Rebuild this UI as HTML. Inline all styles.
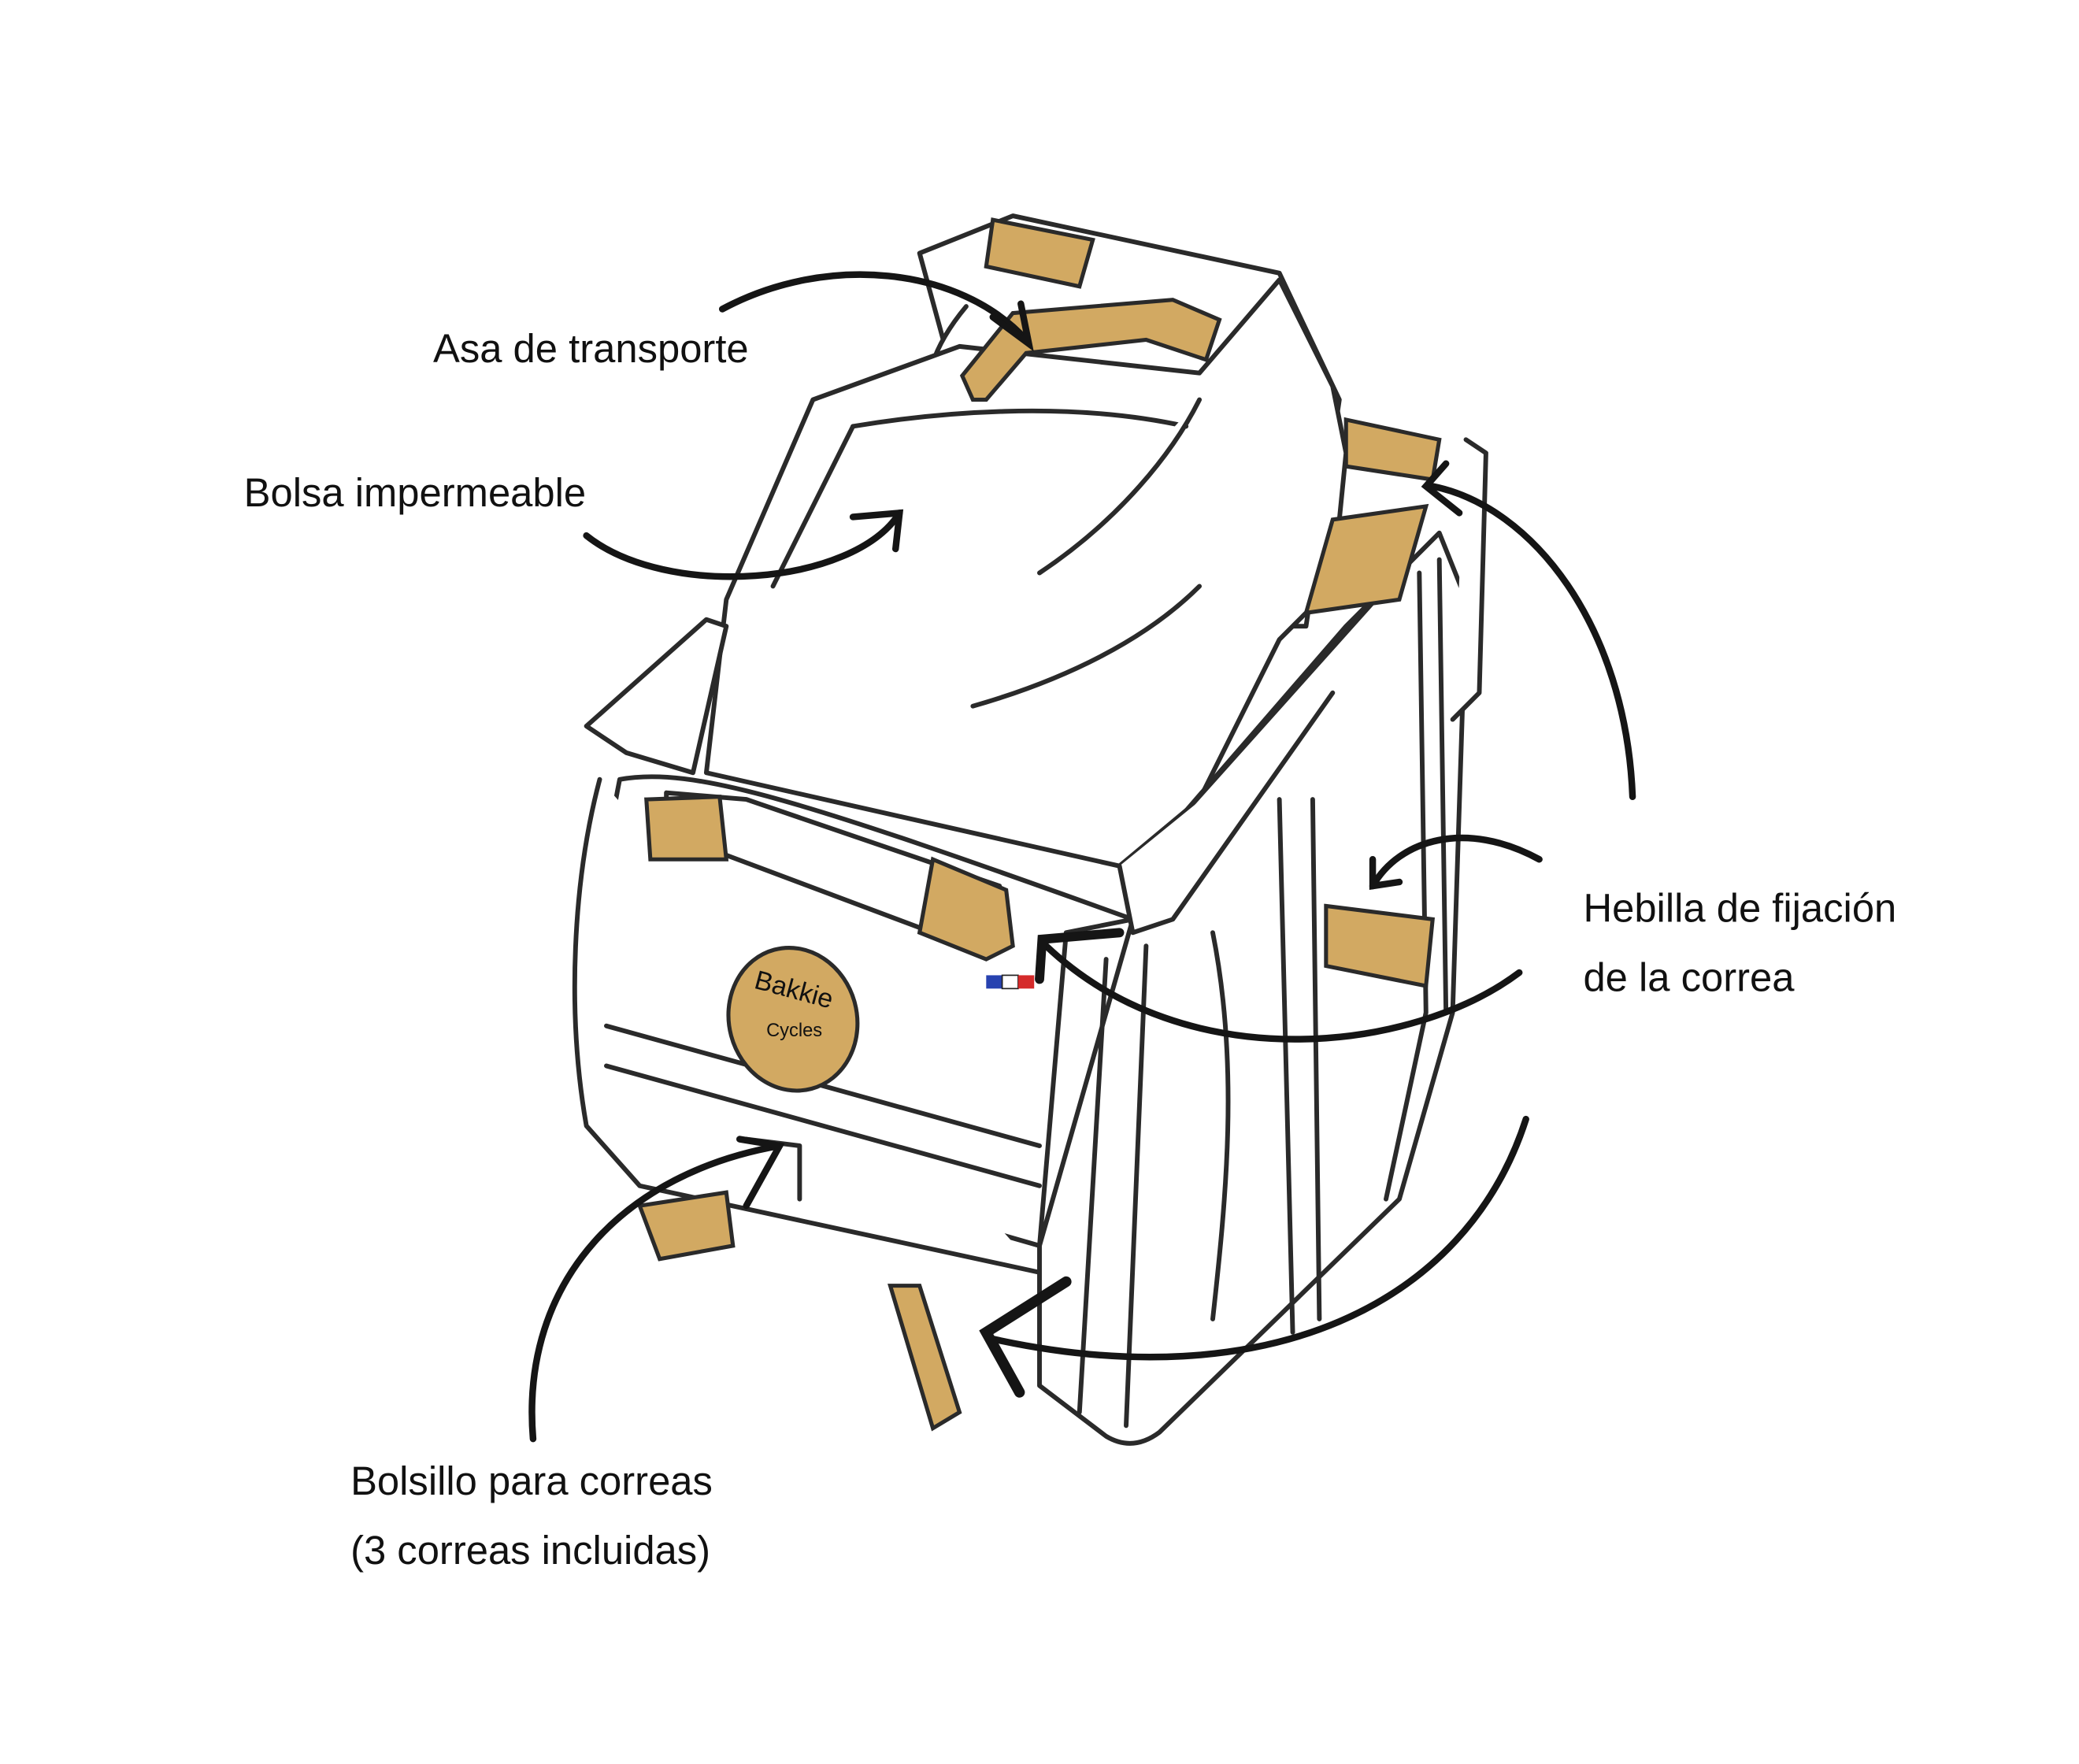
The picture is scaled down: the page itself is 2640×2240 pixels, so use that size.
<!DOCTYPE html>
<html><head><meta charset="utf-8"><style>
html,body{margin:0;padding:0;background:#fff;}
svg{display:block;}
text{font-family:"Liberation Sans",sans-serif;fill:#111;}
</style></head><body>
<svg width="2640" height="2240" viewBox="0 0 1560 1324" preserveAspectRatio="none" xmlns="http://www.w3.org/2000/svg">
<rect width="1560" height="1324" fill="#fff"/>
<g fill="#fff" stroke="#2a2a2a" stroke-width="3.5" stroke-linejoin="round" stroke-linecap="round">
<path d="M690 190 L760 162 L960 205 L1005 300 L980 470 L880 470 L720 300 Z"/>
<path d="M725 230 C700 260 690 290 700 310"/>
<path d="M610 300 L720 260 L900 280 L960 210 L1000 290 L1010 340 L1000 440 L960 480 L900 600 L840 650 L530 580 L545 450 Z"/>
<path d="M640 320 C700 310 800 300 890 320"/>
<path d="M780 430 C840 390 880 340 900 300"/>
<path d="M730 530 C800 510 860 480 900 440"/>
<path d="M640 320 C620 360 600 400 580 440"/>
<path d="M440 545 L530 465 L545 470 L520 580 L470 565 Z"/>
<path d="M465 585 C520 575 600 600 850 690 L800 700 L780 935 L450 840 C440 760 450 660 465 585 Z"/>
<path d="M450 585 C430 660 425 760 440 845 L480 890 L780 955"/>
<path d="M455 770 L780 860"/>
<path d="M455 800 L780 890"/>
<path d="M560 855 L600 860 L600 900"/>
<path d="M850 690 L880 620 L1010 470 L1080 400 L1100 450 L1090 760 L1050 900 L870 1075 Q850 1090 830 1078 L780 1040 L780 935 Z"/>
<path d="M880 620 L1050 430"/>
<path d="M840 650 L850 700 L880 690 L1000 520"/>
<path d="M960 600 L970 1000"/>
<path d="M985 600 L990 990"/>
<path d="M1065 430 L1070 760 L1040 900"/>
<path d="M1080 420 L1085 760"/>
<path d="M830 720 L810 1060"/>
<path d="M860 710 L845 1070"/>
<path d="M910 700 C930 800 920 900 910 990"/>
<path d="M1100 330 L1115 340 L1110 520 L1090 540"/>
<path d="M500 595 L560 600 L750 665 L740 710 L700 700 L540 640 L500 630 Z"/>
</g>
<g fill="#d2a962" stroke="#2a2a2a" stroke-width="3">
<path d="M745 165 L820 180 L810 215 L740 200 Z"/>
<path d="M722 282 L760 235 L880 225 L915 240 L905 270 L860 255 L770 265 L740 300 L730 300 Z"/>
<path d="M485 600 L540 598 L545 645 L488 645 Z"/>
<path d="M700 645 L755 668 L760 710 L740 720 L690 700 Z"/>
<path d="M1010 315 L1080 330 L1075 360 L1010 350 Z"/>
<path d="M1000 390 L1070 380 L1050 450 L980 460 Z"/>
<path d="M995 680 L1075 690 L1070 740 L995 725 Z"/>
<path d="M480 905 L545 895 L550 935 L495 945 Z"/>
<path d="M668 965 L690 965 L720 1060 L700 1072 Z"/>
<ellipse cx="595" cy="765" rx="48" ry="54" transform="rotate(-15 595 765)"/>
</g>
<text x="560" y="750" font-size="20" fill="#222" transform="rotate(15 595 765)">Bakkie</text>
<text x="575" y="778" font-size="14" fill="#222">Cycles</text>
<rect x="740" y="732" width="12" height="10" fill="#2742b0"/>
<rect x="752" y="732" width="12" height="10" fill="#fff" stroke="#222"/>
<rect x="764" y="732" width="12" height="10" fill="#d52a2a"/>
<g fill="none" stroke="#151515" stroke-width="5" stroke-linecap="round">
<path d="M542 232 C620 190 720 200 770 255"/>
<path d="M745 238 L772 258 L766 228"/>
<path d="M440 402 C500 450 640 440 675 385"/>
<path d="M640 388 L675 385 L672 412"/>
<path d="M1225 598 C1220 470 1150 380 1075 365"/>
<path d="M1085 348 L1070 365 L1095 385"/>
<path d="M1155 645 C1100 615 1050 630 1030 665"/>
<path d="M1030 645 L1030 665 L1050 662"/>
<path d="M1140 730 C1060 790 890 810 785 710"/>
<path d="M780 735 L782 705 L840 700" stroke-width="7"/>
<path d="M1145 840 C1100 980 950 1050 745 1005"/>
<path d="M800 962 L740 1000 L765 1045" stroke-width="8"/>
<path d="M400 1080 C390 960 470 880 585 860"/>
<path d="M555 855 L585 860 L560 905"/>
</g>
<g font-size="30">
<text x="325" y="272">Asa de transporte</text>
<text x="183" y="380">Bolsa impermeable</text>
<text x="1188" y="692">Hebilla de fijación</text>
<text x="1188" y="744">de la correa</text>
<text x="263" y="1122">Bolsillo para correas</text>
<text x="263" y="1174">(3 correas incluidas)</text>
</g>
</svg>
</body></html>
